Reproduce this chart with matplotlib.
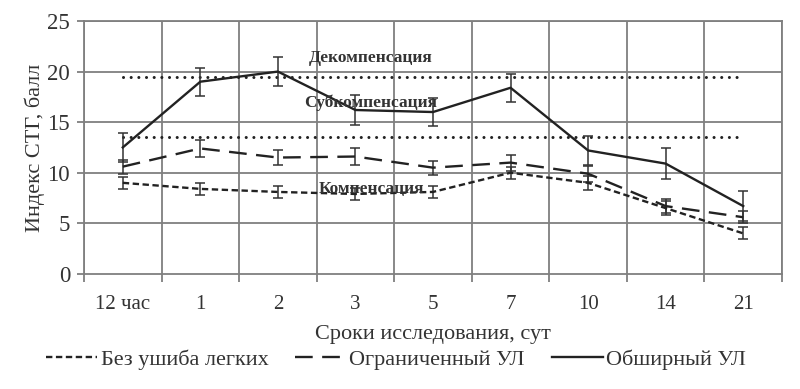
import numpy as np
import matplotlib
matplotlib.use('Agg')
import matplotlib.pyplot as plt
from matplotlib.lines import Line2D

plt.rcParams['font.family'] = ['Liberation Serif', 'DejaVu Serif']

categories = ['12 час', '1', '2', '3', '5', '7', '10', '14', '21']

no_bruise = [9.0, 8.4, 8.1, 7.9, 8.1, 10.0, 9.0, 6.5, 4.0]
no_bruise_err = [0.6, 0.6, 0.6, 0.6, 0.6, 0.6, 0.7, 0.7, 0.6]

limited = [10.6, 12.4, 11.5, 11.6, 10.5, 11.0, 9.9, 6.7, 5.6]
limited_err = [0.7, 0.8, 0.7, 0.8, 0.7, 0.8, 0.8, 0.7, 0.6]

extensive = [12.5, 19.0, 20.0, 16.2, 16.0, 18.4, 12.2, 10.9, 6.7]
extensive_err = [1.4, 1.4, 1.4, 1.5, 1.4, 1.4, 1.4, 1.5, 1.5]

thresholds = [19.5, 13.5]
zone_labels = ['Декомпенсация', 'Субкомпенсация', 'Компенсация']
zone_y = [21.3, 16.9, 8.4]

x = np.arange(len(categories))

fig = plt.figure(figsize=(8, 3.89), dpi=100)
ax = fig.add_axes([0.105, 0.296, 0.8725, 0.65])

grid_c = '#7f7f7f'
ink = '#222222'
for b in np.arange(-0.5, len(categories), 1.0):
    ax.axvline(b, color=grid_c, lw=1.3, zorder=0)
for yv in range(5, 26, 5):
    ax.axhline(yv, color=grid_c, lw=1.3, zorder=0)

for yv in thresholds:
    ax.plot([x[0], x[-1]], [yv, yv], color=ink, lw=2.2,
            dashes=(0.01, 2.5), dash_capstyle='round', zorder=2)

short_dash = (2.7, 1.5)
long_dash = (7.5, 4)
ekw = dict(color=ink, ecolor='#333333', elinewidth=1.1, capsize=3.5,
           capthick=1.1, zorder=3, lw=1.7)
ax.errorbar(x, no_bruise, yerr=no_bruise_err, dashes=short_dash, **ekw)
ax.errorbar(x, limited, yerr=limited_err, dashes=long_dash, **ekw)
ax.errorbar(x, extensive, yerr=extensive_err, **ekw)

for lab, yv in zip(zone_labels, zone_y):
    ax.text(3.2, yv, lab, ha='center', va='center', fontsize=12.5,
            fontweight='bold', color='#333333', zorder=4)

ax.set_xlim(-0.5, len(categories) - 0.5)
ax.set_ylim(0, 25)
ax.set_yticks(range(0, 26, 5))
ax.set_xticks(x)
ax.set_xticklabels(categories)
ax.set_xticks(np.arange(-0.5, len(categories), 1.0), minor=True)
ax.tick_params(axis='x', which='major', length=0, labelsize=15, pad=15,
               colors='#333333')
ax.tick_params(axis='x', which='minor', length=6, width=1.3, color=grid_c)
ax.tick_params(axis='y', length=5, width=1.3, color=grid_c, labelsize=16.5,
               labelcolor='#333333', pad=5)
for s in ax.spines.values():
    s.set_color(grid_c)
    s.set_linewidth(1.3)

ax.set_ylabel('Индекс СТГ, балл', fontsize=16, color='#333333', labelpad=2)
ax.set_xlabel('Сроки исследования, сут', fontsize=16, color='#333333',
              labelpad=8)

handles = [
    Line2D([], [], color=ink, lw=1.7, dashes=short_dash),
    Line2D([], [], color=ink, lw=1.7, dashes=long_dash),
    Line2D([], [], color=ink, lw=1.7),
]
fig.legend(handles, ['Без ушиба легких', 'Ограниченный УЛ', 'Обширный УЛ'],
           loc='center', bbox_to_anchor=(0.495, 0.075), ncol=3, frameon=False,
           fontsize=16, handlelength=2.3, handletextpad=0.15,
           columnspacing=1.2, labelcolor='#333333')

fig.savefig('out.png', dpi=100)
